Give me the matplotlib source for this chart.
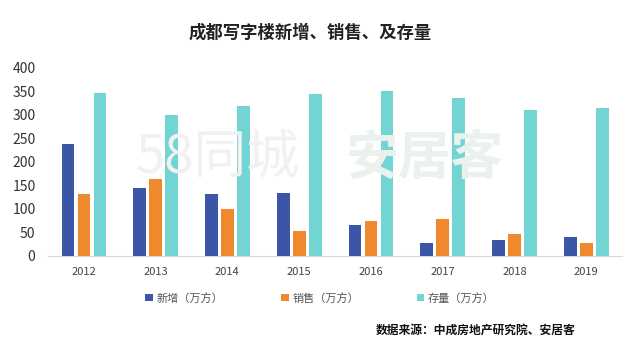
import matplotlib
matplotlib.use("Agg")
import matplotlib.pyplot as plt
import numpy as np

plt.rcParams['font.family'] = ['Noto Sans CJK SC', 'DejaVu Sans']

years = ['2012', '2013', '2014', '2015', '2016', '2017', '2018', '2019']
new_supply = [238, 144, 132, 135, 65, 28, 33, 40]
sales = [131, 164, 101, 53, 74, 79, 46, 28]
stock = [347, 301, 320, 344, 352, 337, 310, 315]
series_names = ['新增（万方）', '销售（万方）', '存量（万方）']
colors = ['#3b56a6', '#f0882d', '#73d4d4']

fig = plt.figure(figsize=(6.4, 3.56), dpi=100)
ax = fig.add_axes([0.075, 0.281, 0.897, 0.528])

x = np.arange(len(years))
w = 0.177
off = 0.223
for i, (vals, name, c) in enumerate(zip([new_supply, sales, stock], series_names, colors)):
    ax.bar(x + (i - 1) * off, vals, width=w, color=c, label=name, zorder=3)

ax.set_xlim(-0.5, len(years) - 0.5)
ax.set_ylim(0, 400)
ax.set_yticks(range(0, 401, 50))
ax.set_xticks(x)
ax.set_xticklabels(years)
ax.tick_params(axis='y', length=0, labelsize=10, pad=9, labelcolor='#333333')
ax.tick_params(axis='x', length=0, labelsize=8, pad=8, labelcolor='#444444')
for s in ['top', 'right', 'left']:
    ax.spines[s].set_visible(False)
ax.spines['bottom'].set_color('#d9d9d9')

# faint watermark
fig.text(0.34, 0.556, '58同城', fontsize=38, color='#f1f1f1', ha='center', va='center', zorder=0)
fig.text(0.664, 0.556, '安居客', fontsize=38, color='#ebf2ed', ha='center', va='center',
         fontweight='bold', zorder=0)

fig.text(0.484, 0.907, '成都写字楼新增、销售、及存量', fontsize=12.5, fontweight='bold',
         ha='center', va='center', color='#222222')

handles, labels = ax.get_legend_handles_labels()
leg = fig.legend(handles, labels, loc='center', bbox_to_anchor=(0.5, 0.163), ncol=3,
                 frameon=False, fontsize=8, handlelength=0.7, handleheight=0.7,
                 columnspacing=5.2, handletextpad=0.3)
for t in leg.get_texts():
    t.set_color('#555555')

fig.text(0.587, 0.073, '数据来源：中成房地产研究院、安居客', fontsize=8.5, fontweight='bold',
         ha='left', va='center', color='#111111')

fig.savefig('out.png', dpi=100)
